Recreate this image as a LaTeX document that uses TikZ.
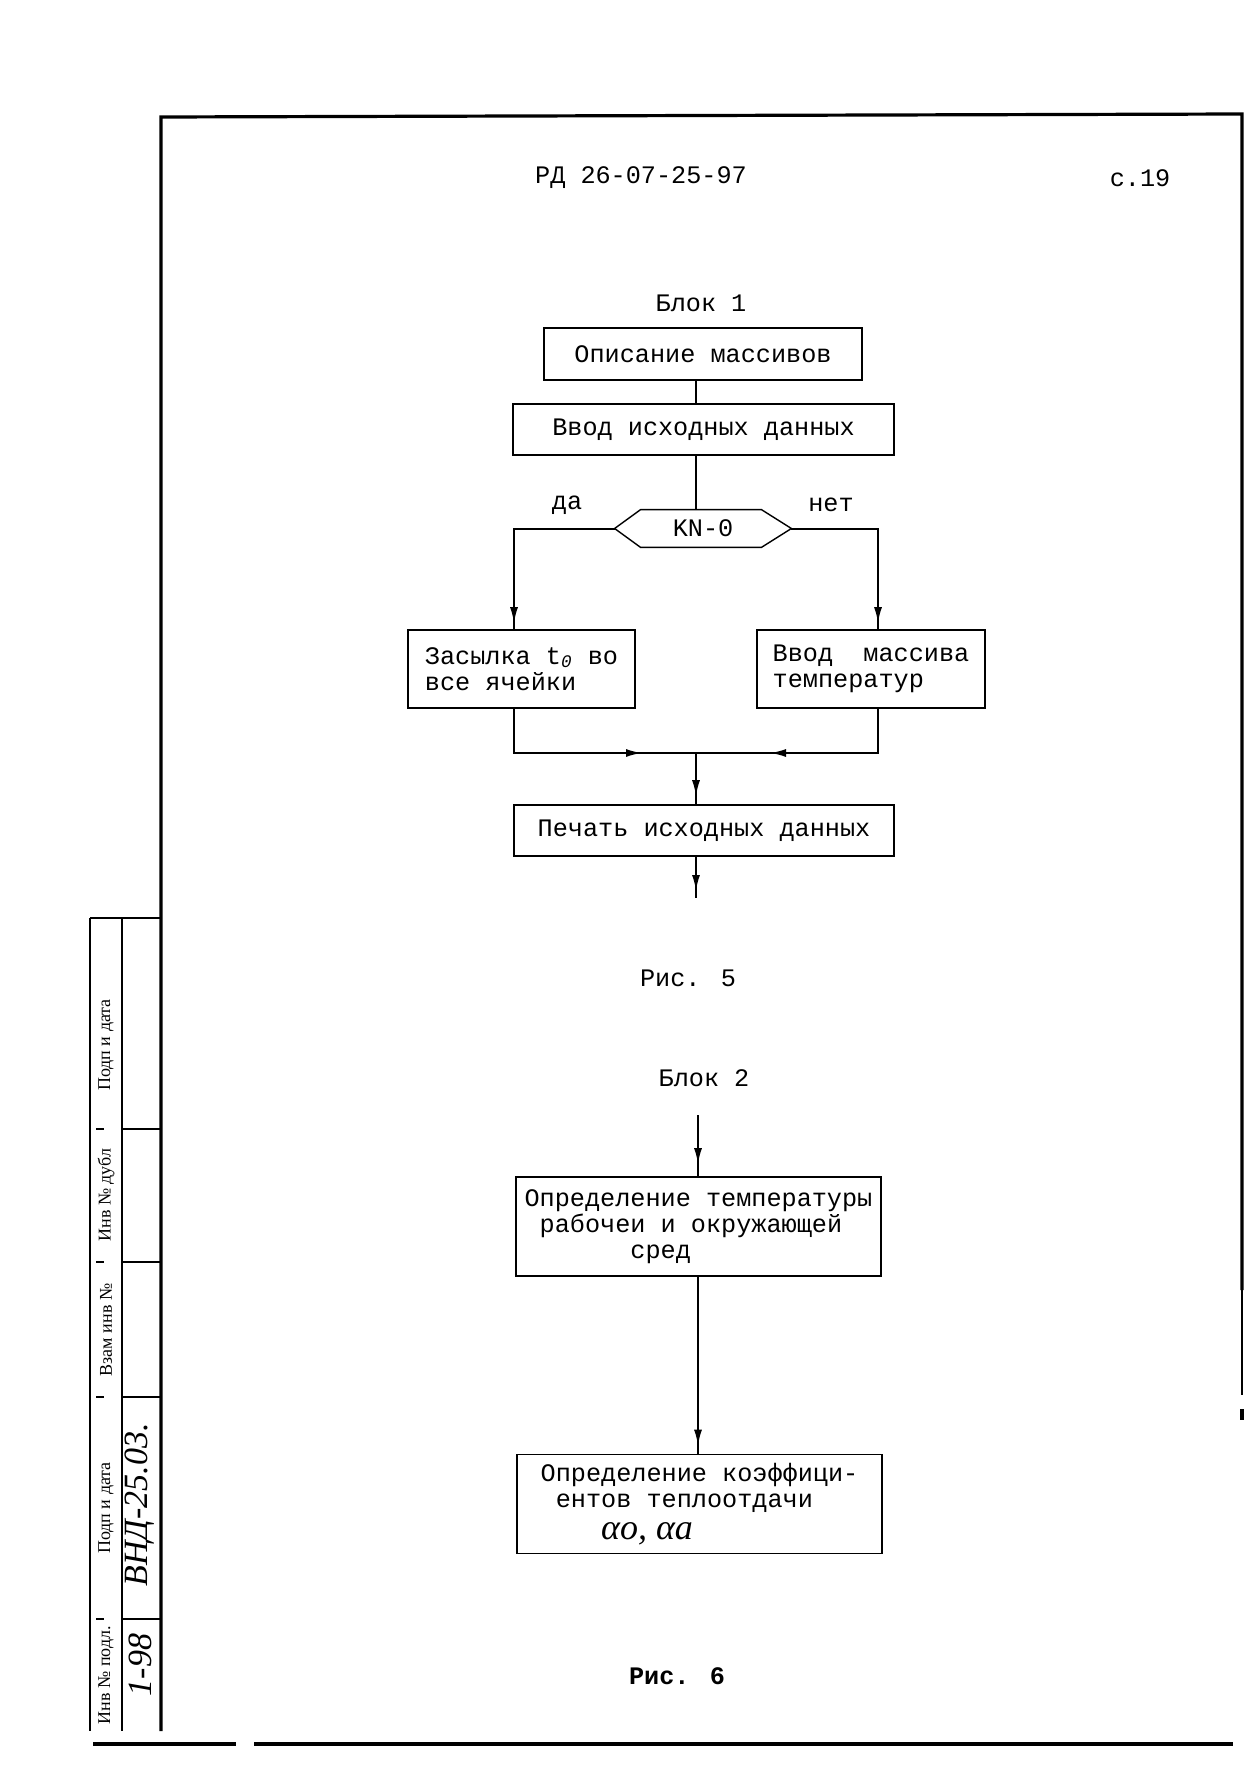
\documentclass[tikz,border=0pt]{standalone}
\usepackage{fontspec}
\setmainfont{Liberation Serif}
\newfontfamily\tw{Liberation Mono}
\usetikzlibrary{arrows.meta,decorations.markings}
\tikzset{
  box/.style={draw, line width=0.8pt, inner sep=0pt, font=\tw\fontsize{12.6}{13}\selectfont, align=left},
  lbl/.style={inner sep=0pt, font=\tw\fontsize{12.6}{13}\selectfont},
  conn/.style={line width=1pt},
  arr/.style={conn, postaction={decorate}, decoration={markings, mark=at position #1 with {\arrow{Latex[length=8pt,width=4pt]}}}},
  framel/.style={line width=1.6pt},
  thinl/.style={line width=0.7pt},
  stamptxt/.style={rotate=90, inner sep=0pt, font=\fontsize{9}{10}\selectfont},
  handtxt/.style={rotate=90, inner sep=0pt, font=\itshape\fontsize{17}{18}\selectfont},
}
\begin{document}
\begin{tikzpicture}[x=0.5pt,y=-0.5pt]
\useasboundingbox (0,0) rectangle (1256,1766);
% page frame
\draw[framel] (161,1731) -- (161,117) -- (1242,114) -- (1242,1290);
\draw[thinl] (1242,1290) -- (1242,1395);
\draw[framel] (1242,1409) -- (1242,1420);
\draw[framel] (93,1744) -- (236,1744);
\draw[framel] (254,1744) -- (1233,1744);
% stamp
\draw[thinl] (90,918) -- (90,1731);
\draw[thinl] (122,918) -- (122,1731);
\draw[thinl] (90,918) -- (161,918);
\foreach \yy in {1129,1262,1397,1619} {
  \draw[thinl] (122,\yy) -- (161,\yy);
  \draw[thinl] (96,\yy) -- (104,\yy);
}
\node[stamptxt] (s1) at (106,1045) {Подп и дата};
\node[stamptxt] (s2) at (106,1195) {Инв № дубл};
\node[stamptxt] (s3) at (106,1330) {Взам инв №};
\node[stamptxt] (s4) at (106,1508) {Подп и дата};
\node[stamptxt] (s5) at (106,1675) {Инв № подл.};
\node[handtxt] (h1) at (140,1505) {ВНД-25.03.};
\node[handtxt] (h2) at (140,1665) {1-98};
% header
\node[lbl] (hdr) at (641,178) {РД 26-07-25-97};
\node[lbl] (pg) at (1140,178) {с.19};
% axes
\coordinate (A) at (696,0);
\coordinate (A2) at (698,0);
\coordinate (L) at (514,0);
\coordinate (R) at (878,0);
% block 1
\node[lbl] (blk1) at (701,303) {Блок 1};
\node[box, minimum width=159pt, minimum height=26pt] (b1) at (703,354) {Описание массивов};
\node[box, minimum width=190.5pt, minimum height=25.5pt] (b2) at (703.5,429.5) {Ввод исходных данных};
\node[lbl, minimum width=88pt, minimum height=18.5pt] (hex) at (703,528.5) {KN-0};
\draw[thinl] (hex.west) -- ([xshift=13pt]hex.north west) -- ([xshift=-15pt]hex.north east) -- (hex.east) -- ([xshift=-15pt]hex.south east) -- ([xshift=13pt]hex.south west) -- cycle;
\node[lbl] (da) at (567,505) {да};
\node[lbl] (net) at (831,505) {нет};
\node[box, minimum width=113.5pt, minimum height=39pt] (b3) at (521.5,669) {Засылка t\textsubscript{\textit{0}} во\\все ячейки};
\node[box, minimum width=114pt, minimum height=39pt] (b4) at (871,669) {Ввод\ \ массива\\температур};
\node[box, minimum width=190pt, minimum height=25.5pt] (b5) at (704,830.5) {Печать исходных данных};
\node[lbl] (fig5) at (688,978) {Рис. 5};
\draw[conn] (b1.south -| A) -- (b2.north -| A);
\draw[conn] (b2.south -| A) -- (hex.north -| A);
\draw[arr=-3pt] (hex.west) -| (b3.north -| L);
\draw[arr=-3pt] (hex.east) -| (b4.north -| R);
\coordinate (m) at (696,753);
\draw[arr=-27pt] (b3.south -| L) |- (m);
\draw[arr=-37pt] (b4.south -| R) |- (m);
\draw[arr=-4pt] (m) -- (b5.north -| A);
\coordinate (o1) at (696,898);
\draw[arr=-3.5pt] (b5.south -| A) -- (o1);
% block 2
\node[lbl] (blk2) at (704,1078) {Блок 2};
\node[box, minimum width=182.5pt, minimum height=49.5pt] (b6) at (698.5,1226.5) {Определение температуры\\\hphantom{р}рабочеи и окружающей\\\hphantom{0000000}сред};
\node[box, minimum width=182.5pt, minimum height=49.5pt] (b7) at (699.5,1504) {Определение коэффици-\\\hphantom{0}ентов теплоотдачи\\[3pt]\hphantom{0000}{\rmfamily\itshape\fontsize{18}{13}\selectfont αo, αa}};
\coordinate (i2) at (698,1115);
\draw[arr=-6pt] (i2) -- (b6.north -| A2);
\draw[arr=-4pt] (b6.south -| A2) -- (b7.north -| A2);
\node[lbl, font=\tw\bfseries\fontsize{12.6}{13}\selectfont] (fig6) at (677,1676) {Рис. 6};
\end{tikzpicture}
\end{document}
